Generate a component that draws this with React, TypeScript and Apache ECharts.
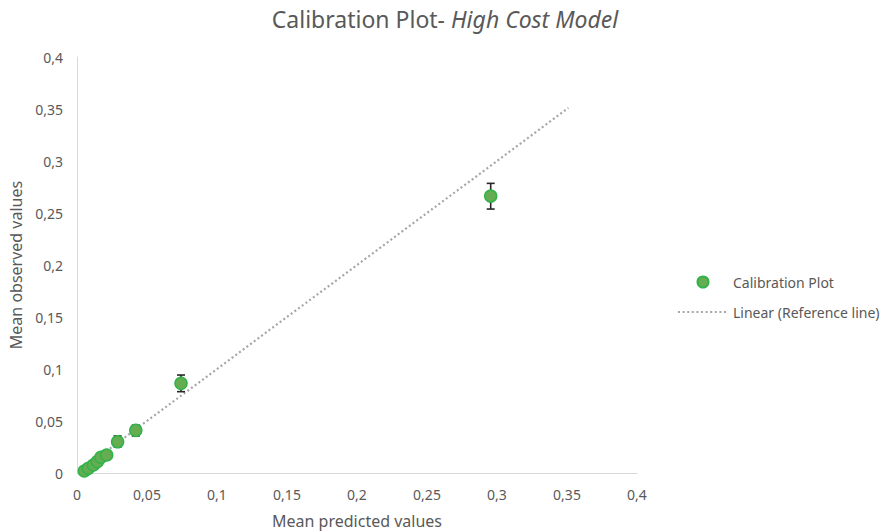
import React, { useEffect, useRef } from "react";
import * as echarts from "echarts";

const predicted = [0.0052, 0.0081, 0.0117, 0.0145, 0.0171, 0.0212, 0.029, 0.042, 0.0743, 0.2955];
const observed = [0.0019, 0.0045, 0.0077, 0.0109, 0.0151, 0.0173, 0.030, 0.041, 0.0862, 0.2663];
const errLow = [0.0009, 0.0033, 0.0062, 0.0089, 0.0129, 0.0148, 0.025, 0.0356, 0.0782, 0.2538];
const errHigh = [0.0029, 0.0057, 0.0092, 0.0129, 0.0173, 0.0198, 0.0356, 0.046, 0.0942, 0.2785];
const refLine = [[0.005, 0.005], [0.351, 0.351]];
const axisTicks = [0, 0.05, 0.1, 0.15, 0.2, 0.25, 0.3, 0.35, 0.4];

const FONT = "'Noto Sans', 'Open Sans', sans-serif";
const TXT = "#595959";

export default function App() {
  const ref = useRef<HTMLDivElement>(null);
  useEffect(() => {
    if (!ref.current) return;
    const chart = echarts.init(ref.current, undefined, { renderer: "svg" });
    const fmt = (v: number) => String(Math.round(v * 100) / 100).replace(".", ",");
    const axisCommon = {
      type: "value",
      min: axisTicks[0],
      max: axisTicks[axisTicks.length - 1],
      interval: 0.05,
      splitLine: { show: false },
      axisTick: { show: false },
      axisLine: { show: true, lineStyle: { color: "#d9d9d9", width: 1 } },
      axisLabel: { color: TXT, fontSize: 14, fontFamily: FONT, formatter: fmt, margin: 14 },
      nameLocation: "middle",
      nameTextStyle: { color: TXT, fontSize: 16, fontFamily: FONT },
    };
    chart.setOption({
      animation: false,
      backgroundColor: "#ffffff",
      textStyle: { fontFamily: FONT },
      title: {
        text: "{n|Calibration Plot- }{i|High Cost Model}",
        left: "center",
        top: 2,
        textStyle: {
          rich: {
            n: { fontSize: 23, color: TXT, fontFamily: FONT, fontWeight: "normal" },
            i: { fontSize: 23, color: TXT, fontFamily: FONT, fontStyle: "italic", fontWeight: "normal" },
          },
        },
      },
      grid: { left: 77, top: 57, right: 253, bottom: 59, containLabel: false, outerBoundsMode: "none" },
      xAxis: { ...axisCommon, name: "Mean predicted values", nameGap: 40 },
      yAxis: { ...axisCommon, name: "Mean observed values", nameGap: 50 },
      legend: {
        orient: "vertical",
        left: 677,
        top: 275,
        padding: 0,
        itemWidth: 50,
        itemHeight: 11,
        itemGap: 16,
        textStyle: { color: TXT, fontSize: 14, fontFamily: FONT },
        data: ["Calibration Plot", "Linear (Reference line)"],
      },
      series: [
        {
          name: "Linear (Reference line)",
          type: "line",
          data: refLine,
          symbol: "none",
          z: 1,
          lineStyle: { color: "#a6a6a6", width: 2.2, type: [2, 2.6] },
          itemStyle: { color: "#a6a6a6", opacity: 0 },
        },
        {
          name: "errors",
          type: "custom",
          z: 2,
          data: predicted.map((x, i) => [x, errLow[i], errHigh[i]]),
          renderItem: (params: any, api: any) => {
            const x = api.value(0);
            const lo = api.coord([x, api.value(1)]);
            const hi = api.coord([x, api.value(2)]);
            const cap = 4;
            const style = { stroke: "#262626", lineWidth: 1.6 };
            return {
              type: "group",
              children: [
                { type: "line", shape: { x1: lo[0], y1: lo[1], x2: hi[0], y2: hi[1] }, style },
                { type: "line", shape: { x1: lo[0] - cap, y1: lo[1], x2: lo[0] + cap, y2: lo[1] }, style },
                { type: "line", shape: { x1: hi[0] - cap, y1: hi[1], x2: hi[0] + cap, y2: hi[1] }, style },
              ],
            };
          },
        },
        {
          name: "Calibration Plot",
          type: "scatter",
          z: 3,
          data: predicted.map((x, i) => [x, observed[i]]),
          symbol: "circle",
          symbolSize: 12,
          itemStyle: { color: "#66ad52", borderColor: "#31b34a", borderWidth: 1.5, opacity: 1 },
        },
      ],
    });
    return () => chart.dispose();
  }, []);
  return <div ref={ref} style={{ position: "absolute", left: 0, top: 0, width: 890, height: 532 }} />;
}
